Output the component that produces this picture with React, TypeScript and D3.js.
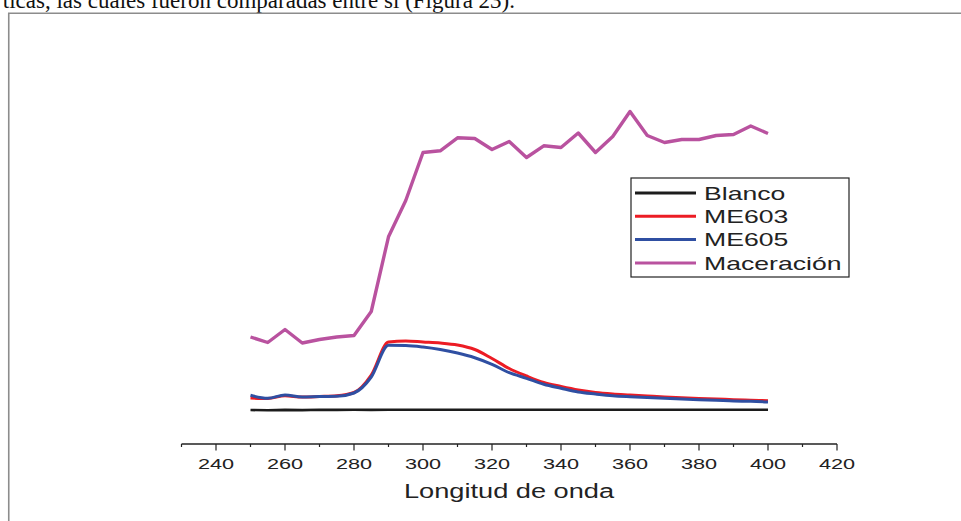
import React, { useEffect, useRef } from 'react';
import * as d3 from 'd3';

// wavelength (nm) and absorbance-like values
const wavelengths = [
  250, 255, 260, 265, 270, 275, 280, 285, 290, 295, 300, 305, 310, 315, 320, 325,
  330, 335, 340, 345, 350, 355, 360, 365, 370, 375, 380, 385, 390, 395, 400,
];
const blanco = [
  -0.005, -0.008, -0.004, -0.006, -0.003, -0.004, -0.003, -0.004, -0.003, -0.003, -0.002, -0.002,
  -0.002, -0.002, -0.002, -0.002, -0.002, -0.002, -0.002, -0.002, -0.002, -0.002, -0.002, -0.002,
  -0.002, -0.002, -0.002, -0.002, -0.002, -0.002, -0.002,
];
const me603 = [
  0.115, 0.11, 0.137, 0.125, 0.13, 0.137, 0.17, 0.345, 0.675, 0.685, 0.675, 0.665, 0.645, 0.6,
  0.51, 0.41, 0.335, 0.27, 0.23, 0.195, 0.17, 0.155, 0.145, 0.135, 0.125, 0.117, 0.11, 0.105,
  0.098, 0.093, 0.088,
];
const me605 = [
  0.142, 0.112, 0.145, 0.125, 0.13, 0.132, 0.165, 0.325, 0.642, 0.64, 0.625, 0.6, 0.565, 0.518,
  0.452, 0.368, 0.312, 0.252, 0.212, 0.175, 0.155, 0.138, 0.128, 0.12, 0.112, 0.105, 0.098,
  0.092, 0.085, 0.082, 0.075,
];
const maceracion = [
  0.725, 0.67, 0.8, 0.665, 0.7, 0.725, 0.74, 0.98, 1.727, 2.09, 2.57, 2.587, 2.717, 2.71, 2.6,
  2.68, 2.52, 2.637, 2.62, 2.765, 2.57, 2.73, 2.98, 2.74, 2.67, 2.7, 2.7, 2.74, 2.75, 2.835, 2.76,
];
const seriesNames = ['Blanco', 'ME603', 'ME605', 'Maceración'];
const seriesColors = ['#1c1c1c', '#ec1c24', '#2f4fa2', '#b9529f'];
const xTicks = [240, 260, 280, 300, 320, 340, 360, 380, 400, 420];

const SANS = '"Liberation Sans", Arial, sans-serif';
const STRETCH = 1.4; // the figure's lettering is stretched sideways

const App = () => {
  const ref = useRef<SVGSVGElement>(null);

  useEffect(() => {
    const svg = d3.select(ref.current);
    svg.selectAll('*').remove();

    const x = d3.scaleLinear().domain([230, 420]).range([181.5, 837]);
    const y = d3.scaleLinear().domain([0, 3]).range([409.5, 109.5]);

    // text of the page above the figure, cut by the top edge
    svg.append('text')
      .attr('x', 515)
      .attr('y', 8)
      .attr('text-anchor', 'end')
      .attr('font-family', '"Liberation Serif", "Times New Roman", serif')
      .attr('font-size', 23)
      .attr('fill', '#111')
      .text('ticas, las cuales fueron comparadas entre sí (Figura 23).');

    // figure frame
    svg.append('path')
      .attr('d', 'M8.75,521 V13.25 H961')
      .attr('fill', 'none')
      .attr('stroke', '#8c8c8c')
      .attr('stroke-width', 1.6);

    const all = [blanco, me603, me605, maceracion];
    const curves = [d3.curveLinear, d3.curveMonotoneX, d3.curveMonotoneX, d3.curveLinear];

    all.forEach((vals, i) => {
      const line = d3.line<number>()
        .x((_, j) => x(wavelengths[j]))
        .y(d => y(d))
        .curve(curves[i]);
      svg.append('path')
        .datum(vals)
        .attr('fill', 'none')
        .attr('stroke', seriesColors[i])
        .attr('stroke-width', i === 0 ? 2.6 : i === 3 ? 3.4 : 3)
        .attr('stroke-linejoin', 'round')
        .attr('d', line);
    });

    // x axis
    const axisY = 444;
    const ax = svg.append('g').attr('transform', `translate(0,${axisY})`);
    ax.append('line')
      .attr('x1', x(230)).attr('x2', x(420))
      .attr('stroke', '#222').attr('stroke-width', 1.4);
    const minor = d3.range(230, 421, 10).filter(v => !xTicks.includes(v));
    ax.selectAll('.minor')
      .data(minor)
      .join('line')
      .attr('x1', d => x(d)).attr('x2', d => x(d))
      .attr('y1', 0).attr('y2', 3)
      .attr('stroke', '#222').attr('stroke-width', 1.2);
    ax.selectAll('.major')
      .data(xTicks)
      .join('line')
      .attr('x1', d => x(d)).attr('x2', d => x(d))
      .attr('y1', 0).attr('y2', 6.5)
      .attr('stroke', '#222').attr('stroke-width', 1.2);
    ax.selectAll('.lbl')
      .data(xTicks)
      .join('text')
      .attr('transform', d => `translate(${x(d)},24.5) scale(${STRETCH},1)`)
      .attr('text-anchor', 'middle')
      .attr('font-family', SANS)
      .attr('font-size', 15.5)
      .attr('fill', '#222')
      .text(d => d);

    svg.append('text')
      .attr('transform', `translate(509,498) scale(1.36,1)`)
      .attr('text-anchor', 'middle')
      .attr('font-family', SANS)
      .attr('font-size', 20)
      .attr('fill', '#222')
      .text('Longitud de onda');

    // legend
    const lg = svg.append('g');
    lg.append('rect')
      .attr('x', 631).attr('y', 178)
      .attr('width', 218).attr('height', 99)
      .attr('fill', '#fff')
      .attr('stroke', '#222').attr('stroke-width', 1.2);
    seriesNames.forEach((name, i) => {
      const cy = 193 + i * 23.3;
      lg.append('line')
        .attr('x1', 635).attr('x2', 696)
        .attr('y1', cy).attr('y2', cy)
        .attr('stroke', seriesColors[i]).attr('stroke-width', 3);
      lg.append('text')
        .attr('transform', `translate(704,${cy + 6.8}) scale(${STRETCH},1)`)
        .attr('font-family', SANS)
        .attr('font-size', 19)
        .attr('fill', '#222')
        .text(name);
    });
  }, []);

  return (
    <svg
      ref={ref}
      width={961}
      height={521}
      style={{ position: 'absolute', left: 0, top: 0, background: '#fff' }}
    />
  );
};

export default App;
